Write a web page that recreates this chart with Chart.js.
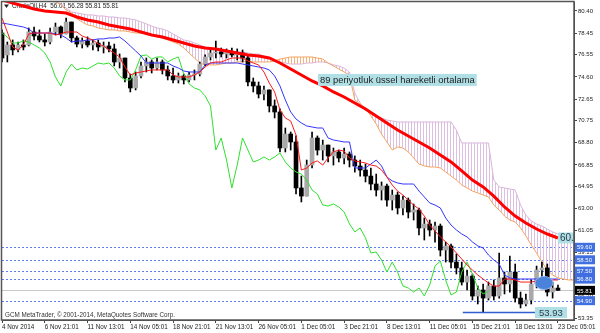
<!DOCTYPE html>
<html>
<head>
<meta charset="utf-8">
<script src="https://cdn.jsdelivr.net/npm/chart.js@4.4.1/dist/chart.umd.min.js"></script>
<style>
  html, body { margin: 0; padding: 0; background: #fff; }
  #wrap { width: 600px; height: 333px; }
</style>
</head>
<body>
<div id="wrap"><canvas id="chart" width="600" height="333"></canvas></div>
<script>
// x axis labels, one every 8 slots
const xTickLabels = ["4 Nov 2014", "6 Nov 21:01", "11 Nov 13:01", "14 Nov 05:01", "18 Nov 21:01",
  "21 Nov 13:01", "26 Nov 05:01", "1 Dec 05:01", "3 Dec 21:01", "8 Dec 13:01",
  "11 Dec 05:01", "15 Dec 21:01", "18 Dec 13:01", "23 Dec 05:01"];

const yTicks = [80.40, 78.45, 76.55, 74.60, 72.65, 70.75, 68.80, 66.85, 64.95, 63.00, 61.05, 59.15, 57.20, 55.30, 53.35];

// candles
const opens = [78.46,76.53,77.41,76.97,77.41,77.41,78.55,78.20,77.85,77.67,
  78.55,78.99,78.38,79.43,78.03,77.49,77.76,77.41,77.58,77.23,
  77.32,77.06,75.91,76.26,74.50,73.62,74.68,75.56,75.91,75.38,
  75.91,75.21,74.68,74.33,74.68,74.33,74.77,74.85,75.74,76.35,
  76.70,76.79,76.62,76.79,76.53,76.70,76.26,74.15,73.80,73.09,
  73.45,72.04,71.51,68.34,69.57,68.87,64.82,64.11,66.84,69.22,
  68.16,68.60,67.64,67.99,67.46,67.81,67.28,66.75,66.40,65.87,
  65.17,64.64,64.99,63.76,64.20,63.06,63.76,62.70,62.88,61.30,
  61.65,61.12,61.47,59.36,59.71,58.30,57.78,56.54,57.07,55.31,
  55.84,55.13,56.19,55.31,56.90,56.37,57.42,55.13,54.61,54.96,
  56.37,57.60,57.78,55.66,56.01];
const highs = [78.73,77.67,77.85,77.67,77.85,78.90,78.99,78.73,78.38,78.90,
  79.34,79.08,79.78,79.43,78.20,78.03,78.12,77.85,77.85,77.67,
  77.67,77.49,76.62,76.26,74.85,75.03,75.91,76.26,76.09,76.26,
  76.09,75.56,75.38,74.94,74.85,75.03,75.21,75.91,76.53,76.97,
  77.76,77.14,77.06,77.14,77.06,76.97,76.53,74.50,74.15,73.80,
  73.45,72.57,71.78,70.10,69.75,69.40,65.87,67.28,69.75,69.40,
  69.04,68.60,68.34,68.16,68.34,67.99,67.64,67.28,66.93,66.58,
  66.05,65.35,65.17,64.64,64.47,64.11,63.94,63.41,63.06,62.18,
  62.00,61.82,61.65,60.06,59.89,59.01,58.30,57.60,57.25,56.19,
  56.37,56.54,56.72,59.10,57.42,58.83,58.13,55.66,55.49,56.72,
  57.95,58.30,58.13,56.54,56.28];
const lows = [75.91,75.91,76.53,76.79,76.97,77.32,77.85,77.67,77.32,77.49,
  78.29,78.03,78.38,77.67,77.23,77.14,77.23,76.97,76.88,76.70,
  76.79,75.56,75.38,74.15,73.27,73.45,74.50,75.03,74.94,75.21,
  74.85,74.33,74.06,74.06,73.97,74.15,74.33,74.68,75.56,76.09,
  76.26,76.35,76.26,76.35,76.09,75.91,73.80,73.27,72.74,72.57,
  71.51,70.98,67.99,67.99,68.16,64.29,63.59,64.11,66.58,67.72,
  67.28,67.11,66.84,67.11,66.93,66.67,66.22,65.87,65.35,64.64,
  64.11,63.76,63.23,62.88,62.53,62.44,62.18,62.00,60.68,60.24,
  60.59,60.06,58.83,58.30,57.78,57.25,56.28,55.84,54.96,54.61,
  53.93,54.96,54.96,55.13,55.49,55.66,54.78,54.26,54.43,54.61,
  56.02,56.72,55.31,55.13,55.81];
const closes = [76.26,77.41,76.97,77.41,77.23,78.55,78.20,77.85,77.67,78.55,
  78.99,78.38,79.43,78.03,77.49,77.76,77.41,77.58,77.23,77.32,
  77.06,75.91,76.26,74.50,73.62,74.68,75.56,75.91,75.38,75.91,
  75.21,74.68,74.33,74.68,74.33,74.77,74.85,75.74,76.35,76.70,
  76.79,76.62,76.79,76.53,76.70,76.26,74.15,73.80,73.09,73.45,
  72.04,71.51,68.34,69.57,68.87,64.82,64.11,66.84,69.22,68.16,
  68.60,67.64,67.99,67.46,67.81,67.28,66.75,66.40,65.87,65.17,
  64.64,64.99,63.76,64.20,63.06,63.76,62.70,62.88,61.30,61.65,
  61.12,61.47,59.36,59.71,58.30,57.78,56.54,57.07,55.31,55.84,
  55.13,56.19,55.31,56.90,56.37,57.42,55.13,54.61,54.96,56.37,
  57.60,57.78,55.66,56.01,55.81];

// ichimoku lines
const tenkan = [79.78,78.55,77.23,76.97,77.41,78.38,78.46,78.46,78.46,78.46,
  78.29,78.38,78.55,78.55,78.55,78.20,78.02,77.85,77.49,77.32,
  76.97,76.70,76.35,75.47,74.77,74.94,75.03,75.12,75.21,75.21,
  75.21,75.21,74.77,74.59,74.59,74.59,74.77,75.03,75.47,75.82,
  75.91,75.91,76.09,76.26,76.26,76.26,76.00,75.82,75.65,75.03,
  74.06,73.27,71.69,70.98,70.72,69.48,66.40,66.58,67.02,67.20,
  66.84,67.46,67.99,68.16,68.07,67.46,67.20,67.11,67.02,66.84,
  66.75,66.40,65.79,65.08,64.55,64.20,63.76,63.32,62.97,62.35,
  61.56,61.04,60.51,60.07,59.63,59.10,58.57,58.04,57.60,57.16,
  56.81,56.46,56.19,56.19,56.81,56.81,56.72,56.54,56.54,56.54,
  56.63,56.63,56.72,56.72,56.72];
const kijun = [79.34,79.26,79.17,79.08,78.99,78.82,78.46,78.46,78.46,78.46,
  78.38,78.29,78.02,77.67,77.76,77.76,77.85,77.85,77.94,77.94,
  78.02,78.02,78.11,77.76,77.32,76.88,76.44,75.82,75.82,75.82,
  75.82,75.82,75.56,75.38,75.12,75.03,75.03,75.03,75.65,75.82,
  75.82,75.82,75.82,75.82,75.82,75.73,75.65,75.56,75.47,75.38,
  75.21,74.68,73.80,72.57,71.51,70.89,70.54,70.28,70.19,70.10,
  70.10,69.22,69.04,68.96,68.87,68.87,66.58,66.58,66.58,66.93,
  67.28,66.76,65.79,65.44,65.26,65.17,65.17,65.17,64.55,64.03,
  63.50,63.32,63.06,62.18,61.56,61.12,60.77,60.51,60.07,59.72,
  59.54,58.92,58.48,58.13,57.16,56.90,56.81,56.81,56.81,56.81,
  56.81,56.81,56.81,56.81,56.81];
const chikou = [78.46,78.11,77.58,77.58,77.76,77.67,77.41,77.14,76.70,75.91,
  74.59,73.80,75.03,75.73,75.21,75.38,75.29,75.56,75.82,75.73,
  75.82,75.38,74.68,74.33,74.33,75.21,76.44,76.53,76.17,76.35,
  76.35,75.91,76.17,76.35,74.85,73.97,73.62,73.45,72.92,72.04,
  68.16,69.22,67.28,64.82,66.84,69.22,68.16,67.11,67.28,67.55,
  67.28,67.55,67.90,67.11,66.58,66.23,66.05,65.52,64.64,64.29,
  63.32,63.23,63.41,63.15,62.71,61.66,60.95,61.30,60.42,59.10,
  59.18,58.48,57.42,58.30,57.42,56.19,56.02,55.66,56.02,55.31,
  56.28,57.95,58.39,56.72,55.40,55.66,57.42,58.30,57.25,56.02,
  55.49,55.75];
const spanA = [81.80,81.76,81.72,81.68,81.64,81.60,81.56,81.50,81.44,81.36,
  81.24,80.95,80.49,80.22,79.70,79.43,79.17,79.08,78.90,78.82,
  78.73,78.73,78.64,78.64,78.55,78.46,78.46,78.38,78.29,78.11,
  78.02,77.85,77.67,77.49,77.14,76.70,76.26,75.82,75.65,75.65,
  75.65,75.73,75.82,75.82,75.91,75.91,76.00,75.91,75.91,75.91,
  75.91,76.00,76.17,76.26,76.35,76.35,76.35,76.35,76.35,76.26,
  76.17,75.82,75.56,75.29,75.03,74.77,72.57,72.21,71.86,71.16,
  70.45,69.57,68.87,68.16,68.43,68.34,67.99,67.46,66.93,66.76,
  66.67,66.67,66.58,66.23,65.87,65.52,65.08,64.82,64.55,64.38,
  64.20,64.03,63.32,62.88,62.35,62.00,61.82,61.30,60.60,59.80,
  59.10,58.30,57.60,57.16,56.90,56.81,56.72,56.72];
const spanB = [82.07,81.98,81.90,81.81,81.72,81.63,81.54,81.46,81.37,81.28,
  81.19,81.02,80.66,80.31,80.22,80.14,80.05,80.05,79.96,79.96,
  79.87,79.87,79.78,79.78,79.70,79.61,79.43,79.26,79.08,78.90,
  78.82,78.64,78.38,78.11,77.85,77.76,77.58,77.41,77.23,77.05,
  76.97,76.97,76.88,76.88,76.79,76.79,76.70,76.61,76.61,76.44,
  76.26,76.09,75.91,75.82,75.73,75.73,75.73,75.82,75.82,75.91,
  75.91,75.82,75.65,75.56,75.38,75.03,73.18,72.30,71.69,71.42,
  71.16,70.98,70.80,70.72,70.63,70.63,70.63,70.63,70.63,70.63,
  70.63,70.63,70.63,70.63,70.63,69.92,68.78,68.78,68.78,68.78,
  68.78,68.78,65.52,64.91,64.82,64.73,64.64,63.32,62.44,61.91,
  61.65,61.47,61.21,60.95,60.77,60.68,60.60,60.51];

// 89 EMA, one value every second slot
const ema89 = [81.37,81.10,80.84,80.58,80.40,80.31,80.22,79.87,79.61,79.43,
  79.17,78.99,78.82,78.55,78.29,78.11,77.85,77.58,77.32,77.14,
  77.05,76.88,76.70,76.53,76.44,76.26,75.82,75.29,74.77,74.24,
  73.80,73.27,72.83,72.30,71.77,71.16,70.54,69.92,69.40,68.87,
  68.34,67.72,67.11,66.32,65.52,64.91,64.10,63.15,62.35,61.74,
  61.21,60.77,60.42];

// objects drawn on the chart
const levels = [59.60, 58.50, 57.50, 56.80, 54.90];
const lastPrice = 55.81;
const lowMark = { value: 53.93, from: 86.2, to: 99.7 };
const emaNote = { slot: 59.1, value: 74.33, text: "89 periyotluk üssel hareketli ortalama" };
const emaTag = { slot: 104, value: 60.42, text: "60.42" };
const blob = { slot: 101.4, value: 56.46 };
const headerText = "CrudeOil,H4  56.01 56.28 55.81 55.81";
const footerText = "GCM MetaTrader, © 2001-2014, MetaQuotes Software Corp.";

Chart.defaults.font.family = "'Liberation Sans', Arial, sans-serif";
Chart.defaults.color = '#222';

const N = spanA.length;
const labels = Array.from({ length: N }, (_, i) => (i % 8 === 0 && xTickLabels[i / 8]) || '');

const canvas = document.getElementById('chart');
const ctx = canvas.getContext('2d');

function hatch(color) {
  const c = document.createElement('canvas');
  c.width = 3;
  c.height = 1;
  const g = c.getContext('2d');
  g.fillStyle = color;
  g.fillRect(0, 0, 1, 1);
  return ctx.createPattern(c, 'repeat');
}

const bodyColors = opens.map((o, i) => closes[i] > o ? '#a9a9a9' : '#000000');

const px = (chart, i) => chart.scales.x.getPixelForValue(i);
const py = (chart, v) => chart.scales.y.getPixelForValue(v);

function hline(c, x1, x2, y) {
  c.beginPath();
  c.moveTo(x1, y);
  c.lineTo(x2, y);
  c.stroke();
}

const overlay = {
  id: 'overlay',
  beforeDatasetsDraw(chart) {
    const { ctx: c, chartArea: a } = chart;
    c.save();
    c.lineWidth = 1;
    c.strokeStyle = '#c8c8c8';
    hline(c, a.left, a.right, Math.round(py(chart, lastPrice)) + 0.5);
    c.strokeStyle = '#5b80f0';
    c.setLineDash([2, 2]);
    levels.forEach(v => hline(c, a.left, a.right, Math.round(py(chart, v)) + 0.5));
    c.setLineDash([]);

    c.fillStyle = '#222';
    c.beginPath();
    c.moveTo(4, 4.5); c.lineTo(9, 4.5); c.lineTo(6.5, 8);
    c.fill();
    c.font = "6.3px 'Liberation Sans'";
    c.textBaseline = 'middle';
    c.fillText(headerText, 12, 6.5);
    c.restore();
  },
  afterDatasetsDraw(chart) {
    const { ctx: c, chartArea: a } = chart;
    c.save();
    c.beginPath();
    c.rect(a.left, a.top, a.right - a.left, a.bottom - a.top);
    c.clip();

    // blue blob
    const bx = px(chart, blob.slot), by = py(chart, blob.value);
    c.beginPath();
    c.ellipse(bx, by, 9, 6.5, 0, 0, Math.PI * 2);
    c.fillStyle = '#4a82dc';
    c.fill();
    c.strokeStyle = '#8fb5ee';
    c.lineWidth = 1;
    c.stroke();

    // low mark line + box
    const ly = Math.round(py(chart, lowMark.value)) + 0.5;
    const lx1 = px(chart, lowMark.from), lx2 = px(chart, lowMark.to);
    c.strokeStyle = '#2f5fd0';
    c.lineWidth = 1.5;
    hline(c, lx1, lx2, ly);
    c.font = "9.5px 'Liberation Sans'";
    c.textBaseline = 'middle';
    c.fillStyle = '#b0e0e6';
    c.fillRect(lx2, ly - 5.5, 32, 11);
    c.fillStyle = '#2b3a4a';
    c.fillText(lowMark.value.toFixed(2), lx2 + 4, ly + 0.5);

    // EMA value tag
    const tx = px(chart, emaTag.slot), ty = py(chart, emaTag.value);
    c.fillStyle = '#b0e0e6';
    c.fillRect(tx, ty - 5.5, 34, 11);
    c.fillStyle = '#2b3a4a';
    c.font = "10px 'Liberation Sans'";
    c.fillText(emaTag.text, tx + 2, ty + 0.5);

    // note
    const nx = px(chart, emaNote.slot), ny = py(chart, emaNote.value);
    c.font = "9.4px 'Liberation Sans'";
    const w = c.measureText(emaNote.text).width;
    c.fillStyle = '#b0e0e6';
    c.fillRect(nx, ny - 6, w + 4, 12);
    c.fillStyle = '#222';
    c.fillText(emaNote.text, nx + 2, ny + 0.5);
    c.restore();

    c.save();
    c.fillStyle = '#333';
    c.font = "6.3px 'Liberation Sans'";
    c.textBaseline = 'middle';
    c.fillText(footerText, 5, a.bottom - 4.5);
    c.restore();
  },
  afterDraw(chart) {
    const { ctx: c, chartArea: a } = chart;
    c.save();
    c.strokeStyle = '#555';
    c.lineWidth = 1.5;
    c.strokeRect(a.left - 0.5, a.top - 0.5, a.right - a.left + 0.5, a.bottom - a.top + 0.5);
    c.font = "6px 'Liberation Sans'";
    c.textBaseline = 'middle';
    const box = (v, bg) => {
      const y = py(chart, v);
      c.fillStyle = bg;
      c.fillRect(a.right + 1, y - 4.5, 20, 9);
      c.fillStyle = '#fff';
      c.fillText(v.toFixed(2), a.right + 3, y + 0.5);
    };
    levels.forEach(v => box(v, '#3f6fe0'));
    box(lastPrice, '#000');
    c.restore();
  }
};

new Chart(ctx, {
  type: 'bar',
  data: {
    labels: labels,
    datasets: [
      {
        type: 'line', label: 'Senkou A', data: spanA,
        borderColor: '#f4a460', borderWidth: 1, pointRadius: 0, tension: 0,
        fill: { target: '+1', above: hatch('rgb(246,180,130)'), below: hatch('rgb(220,190,225)') },
        order: 9
      },
      {
        type: 'line', label: 'Senkou B', data: spanB,
        borderColor: '#d8b4dc', borderWidth: 1, pointRadius: 0, tension: 0, fill: false,
        order: 9
      },
      {
        label: 'wick', data: lows.map((l, i) => [l, highs[i]]),
        backgroundColor: '#000', barThickness: 1, grouped: false, order: 8
      },
      {
        label: 'body', data: opens.map((o, i) => [o, closes[i]]),
        backgroundColor: bodyColors, barThickness: 4, minBarLength: 1, grouped: false, order: 7
      },
      {
        type: 'line', label: 'Chikou', data: chikou,
        borderColor: '#2fe02f', borderWidth: 1, pointRadius: 0, tension: 0, order: 4
      },
      {
        type: 'line', label: 'Kijun', data: kijun,
        borderColor: '#3434ff', borderWidth: 1, pointRadius: 0, tension: 0, order: 3
      },
      {
        type: 'line', label: 'Tenkan', data: tenkan,
        borderColor: '#ff1a1a', borderWidth: 1, pointRadius: 0, tension: 0, order: 2
      },
      {
        type: 'line', label: 'EMA 89', data: ema89.flatMap(v => [v, null]).slice(0, 105),
        borderColor: '#ff0000', borderWidth: 3, pointRadius: 0, tension: 0, spanGaps: true, order: 1
      }
    ]
  },
  options: {
    responsive: false,
    devicePixelRatio: 1,
    animation: false,
    events: [],
    layout: { padding: { left: 2, top: 2, right: 0, bottom: 0 } },
    plugins: { legend: { display: false }, tooltip: { enabled: false } },
    scales: {
      x: {
        offset: false,
        grid: {
          display: true, drawOnChartArea: false, offset: false, tickLength: 3,
          tickColor: '#444',
          tickWidth: c => (labels[c.index] ? 1 : 0)
        },
        border: { display: true, color: '#444' },
        ticks: {
          autoSkip: false, maxRotation: 0, minRotation: 0, align: 'start', padding: 0,
          font: { size: 6.3 }, color: '#222',
          callback: function (v) { return this.getLabelForValue(v); }
        },
        afterFit(s) { s.height = 13; s.paddingLeft = 0; s.paddingRight = 0; }
      },
      y: {
        position: 'right',
        min: 53.20,
        max: 81.19,
        grid: { drawOnChartArea: false, tickLength: 3, tickColor: '#444' },
        border: { display: true, color: '#444' },
        ticks: { padding: 1, font: { size: 6 }, color: '#222', callback: v => v.toFixed(2) },
        afterBuildTicks(s) { s.ticks = yTicks.map(v => ({ value: v })); },
        afterFit(s) { s.width = 26; s.paddingTop = 0; s.paddingBottom = 0; }
      }
    }
  },
  plugins: [overlay]
});
</script>
</body>
</html>
